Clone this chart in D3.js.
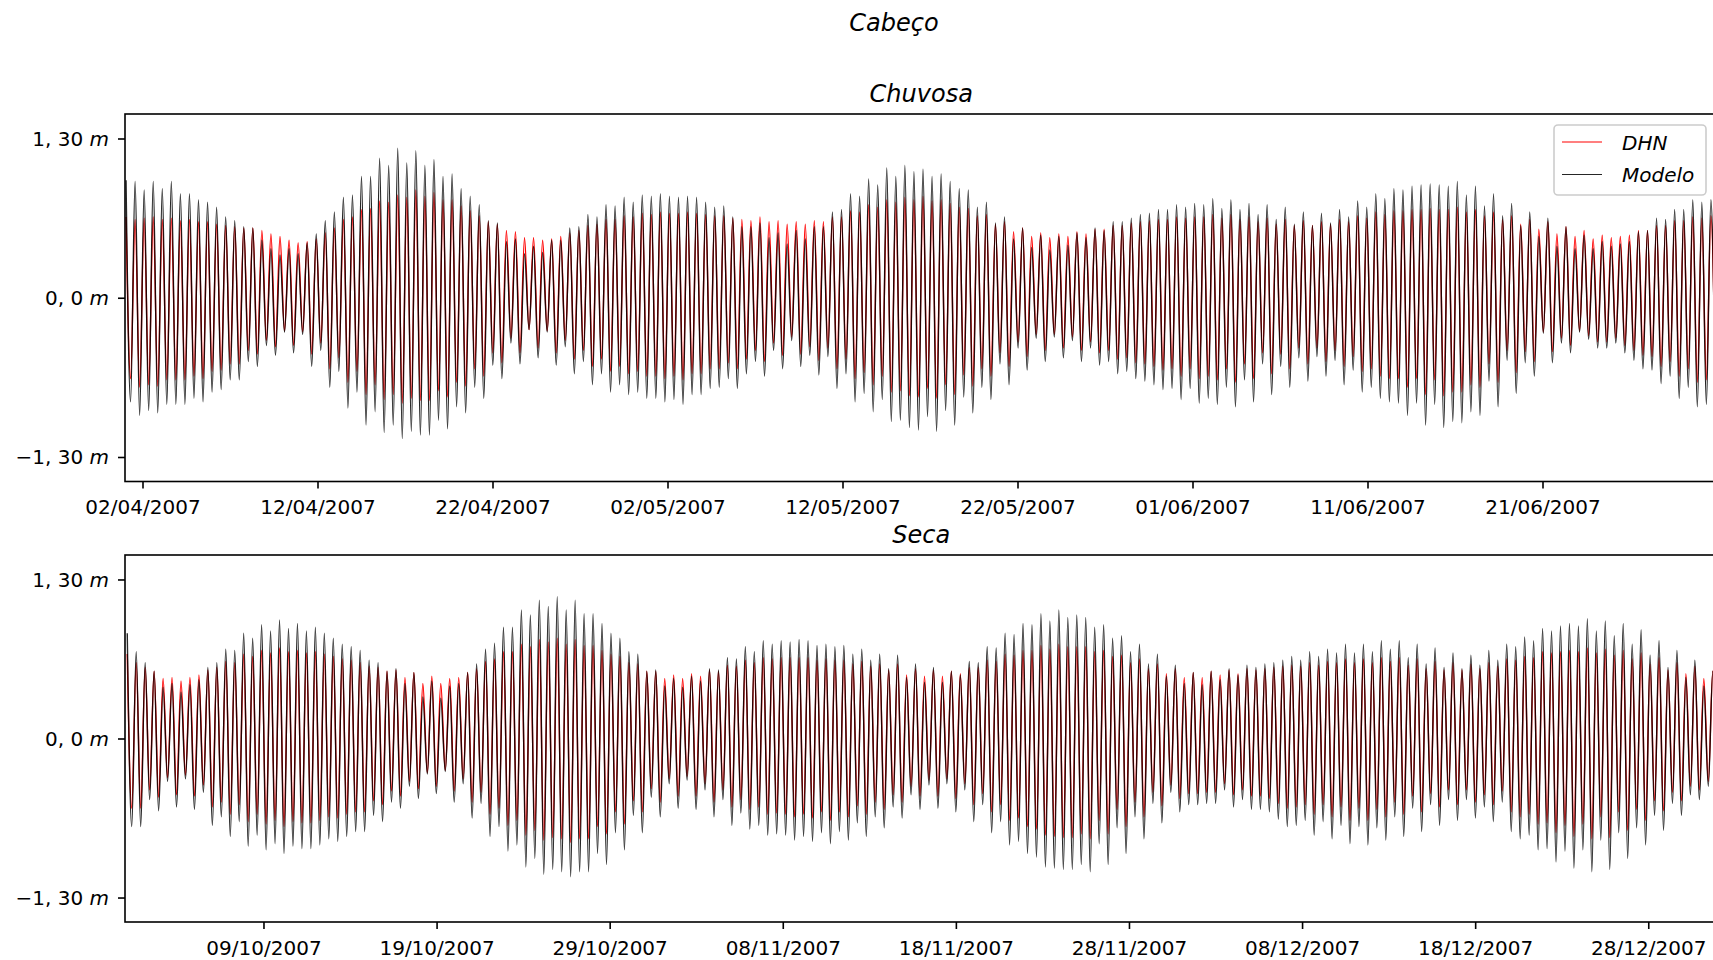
<!DOCTYPE html>
<html><head><meta charset="utf-8">
<script src="https://cdn.jsdelivr.net/npm/d3@7"></script>
<style>
html,body{margin:0;padding:0;background:#fff;overflow:hidden}
svg{display:block;background:#fff}
text{font-family:"DejaVu Sans",sans-serif;fill:#000}
</style></head><body>
<svg id="chart" width="1713" height="960"></svg>
<script>
// ---------------- data ----------------
const figureTitle = "Cabeço";
const panelTitles = ["Chuvosa", "Seca"];
const seriesNames = ["DHN", "Modelo"];
const yTickValues = [-1.3, 0, 1.3];
const yTickNumbers = ["\u22121, 30", "0, 0", "1, 30"];
const yUnit = "m";
const chuvosaTickLabels = ["02/04/2007","12/04/2007","22/04/2007","02/05/2007","12/05/2007","22/05/2007","01/06/2007","11/06/2007","21/06/2007"];
const secaTickLabels = ["09/10/2007","19/10/2007","29/10/2007","08/11/2007","18/11/2007","28/11/2007","08/12/2007","18/12/2007","28/12/2007"];
const chuvosaPeriod = ["01/04/2007 00:00", "01/07/2007 00:00"];
const secaPeriod = ["01/10/2007 00:00", "01/01/2008 00:00"];
const chuvosaFirstHighWater = "01/04/2007 01:26";
const secaFirstHighWater = "01/10/2007 03:07";
const tidalCycleHours = 12.42;

// successive high waters / low waters (cm), Chuvosa
const chuvosaModeloHigh = [96,95,88,95,89,95,85,85,80,78,74,66,63,58,57,47,40,35,40,36,45,52,63,70,82,84,99,99,114,108,122,
110,120,108,113,99,101,89,83,76,63,61,46,48,36,42,37,47,47,57,58,68,66,76,75,82,78,84,83,85,83,82,83,82,78,74,75,66,58,58,61,49,53,44,55,48,58,58,70,72,85,83,97,92,106,99,108,
103,105,99,101,95,89,88,74,78,61,66,48,57,41,51,39,50,43,53,49,57,55,62,62,65,68,69,72,72,76,74,77,76,81,73,80,72,77,68,76,64,74,60,70,59,69,61,72,66,79,74,85,81,89,88,91,
92,93,92,91,95,84,91,75,85,67,77,59,70,50,65,42,58,40,51,40,46,42,44,46,54,55,65,64,72,72,80,78,80];
const chuvosaModeloLow = [-85,-96,-92,-94,-87,-87,-87,-82,-85,-77,-75,-67,-67,-52,-56,-39,-47,-28,-45,-30,-56,-43,-73,-60,-90,-77,-104,-93,-110,-104,
-115,-109,-112,-112,-100,-107,-89,-94,-73,-82,-55,-66,-37,-54,-26,-49,-28,-55,-40,-62,-52,-71,-62,-77,-71,-79,-77,-82,-82,-85,-83,-87,-79,-79,-74,-73,-66,-74,-62,-52,-64,-43,-58,-35,-56,-47,-63,-48,-74,-62,-85,-78,-93,-83,-101,-100,
-106,-108,-97,-109,-92,-104,-81,-94,-73,-83,-54,-71,-41,-59,-33,-52,-32,-49,-35,-52,-41,-55,-52,-62,-60,-66,-68,-71,-75,-74,-83,-74,-86,-82,-87,-73,-89,-67,-85,-54,-79,-56,-73,-49,-68,-48,-64,-51,-71,-59,-77,-73,-82,-85,-86,-96,-86,
-104,-87,-106,-101,-102,-93,-96,-68,-89,-51,-78,-53,-64,-29,-53,-37,-45,-28,-34,-41,-41,-37,-45,-51,-58,-59,-70,-64,-82,-73,-89,-87,-92];
const chuvosaDHNHigh = [66,64,65,66,64,65,63,64,62,62,60,59,58,57,57,55,52,50,47,45,46,48,53,57,64,66,72,73,79,78,84,
82,88,83,86,80,80,75,71,67,62,60,55,54,49,49,47,48,50,53,55,59,60,64,64,67,66,69,68,70,69,69,70,69,68,67,67,65,64,63,66,62,63,60,62,60,63,62,66,66,71,70,76,74,80,78,82,
80,83,79,80,77,74,73,67,68,60,62,54,57,50,53,49,52,50,54,52,56,56,59,59,61,62,63,64,64,66,65,66,66,68,65,68,64,66,62,65,60,64,59,63,59,62,60,64,62,67,65,70,68,71,71,72,
72,73,72,72,74,70,72,67,70,64,67,60,64,56,62,52,58,50,55,48,51,49,50,51,55,55,59,59,63,63,66,65,67];
const chuvosaDHNLow = [-66,-73,-71,-72,-67,-67,-67,-64,-66,-60,-59,-54,-54,-43,-46,-35,-40,-27,-39,-28,-46,-37,-58,-49,-69,-60,-79,-71,-83,-79,
-86,-82,-84,-84,-76,-81,-69,-72,-58,-64,-45,-53,-33,-45,-26,-41,-27,-45,-35,-50,-43,-56,-50,-60,-56,-62,-60,-64,-64,-66,-64,-67,-62,-62,-58,-58,-53,-58,-50,-43,-52,-37,-47,-32,-46,-40,-51,-41,-58,-50,-66,-61,-71,-64,-77,-76,
-80,-81,-74,-82,-71,-79,-63,-72,-58,-64,-45,-56,-36,-48,-30,-43,-30,-41,-32,-43,-36,-45,-43,-50,-49,-53,-54,-56,-59,-58,-64,-58,-66,-64,-67,-58,-69,-54,-66,-45,-62,-46,-58,-41,-54,-41,-52,-43,-56,-48,-60,-58,-64,-66,-66,-73,-66,
-79,-67,-80,-77,-77,-71,-73,-54,-69,-43,-61,-44,-52,-28,-44,-33,-39,-27,-31,-36,-36,-33,-39,-43,-47,-48,-56,-52,-64,-58,-69,-67,-71];

// successive high waters / low waters (cm), Seca
const secaModeloHigh = [86,71,62,55,42,45,38,44,48,58,62,73,72,86,82,93,88,97,90,94,88,91,86,82,77,75,72,64,62,55,57,
45,54,34,47,33,43,45,54,61,73,78,91,91,105,101,113,108,116,105,113,102,102,94,86,82,71,69,55,56,43,49,42,51,47,57,56,66,65,75,71,80,77,80,79,81,80,76,77,75,76,69,73,64,69,57,68,50,
61,46,58,46,55,52,63,62,75,74,86,85,94,93,102,96,105,99,101,99,91,93,82,84,71,77,61,69,51,60,45,54,44,55,48,57,52,60,58,61,62,64,67,64,71,67,73,70,77,70,77,71,80,73,80,66,77,
61,74,58,70,57,68,60,72,64,77,75,83,80,90,88,92,94,92,98,88,96,84,94,77,89,68,80,58,72,50,64,43,55];
const secaModeloLow = [-72,-72,-50,-59,-35,-56,-33,-58,-44,-71,-64,-80,-68,-88,-79,-91,-86,-94,-88,-90,-90,-87,-82,-84,-80,-76,-76,-63,-68,-52,
-57,-39,-49,-29,-45,-27,-52,-37,-65,-53,-80,-72,-92,-87,-105,-98,-111,-107,-109,-113,-109,-109,-94,-103,-77,-91,-63,-77,-48,-64,-37,-57,-34,-58,-42,-64,-50,-71,-61,-74,-71,-79,-78,-79,-83,-80,-84,-77,-86,-76,-83,-69,-80,-64,-73,-56,-65,
-46,-58,-38,-57,-37,-60,-42,-68,-54,-77,-68,-87,-84,-94,-97,-105,-106,-107,-107,-103,-109,-86,-103,-73,-94,-64,-82,-53,-69,-44,-60,-54,-54,-53,-53,-42,-56,-50,-58,-58,-60,-66,-72,-71,-67,-79,-68,-82,-71,-86,-72,-87,-73,-83,-64,-80,-57,
-76,-54,-71,-50,-67,-50,-65,-56,-68,-52,-76,-82,-79,-91,-90,-101,-92,-106,-91,-109,-83,-107,-77,-98,-73,-87,-63,-75,-53,-63,-46,-50,-39,-45];
const secaDHNHigh = [69,62,58,55,49,50,47,50,52,56,58,63,62,69,67,72,70,74,71,72,70,71,69,67,65,64,62,59,58,55,56,
50,54,45,51,45,49,50,54,57,63,65,71,71,77,75,81,79,82,77,81,76,76,72,69,67,62,61,55,55,49,52,49,53,51,56,55,60,59,64,62,66,65,66,66,66,66,64,65,64,64,61,63,59,61,56,61,52,
57,51,56,51,55,53,58,58,64,63,69,68,72,72,76,73,77,75,75,75,71,72,67,68,62,65,57,61,53,57,50,54,50,55,52,56,53,57,56,57,58,59,60,59,62,60,63,62,65,62,65,62,66,63,66,60,65,
57,63,56,62,56,61,57,62,59,65,64,67,66,71,70,71,72,71,74,70,73,68,72,65,70,61,66,56,62,53,59,49,55];
const secaDHNLow = [-57,-57,-42,-48,-32,-46,-30,-47,-38,-56,-52,-62,-54,-68,-62,-70,-67,-72,-68,-69,-69,-67,-64,-65,-62,-60,-60,-51,-54,-43,
-47,-35,-41,-28,-39,-26,-43,-33,-52,-44,-62,-57,-71,-67,-79,-75,-83,-81,-82,-85,-82,-82,-72,-78,-60,-70,-51,-60,-41,-52,-33,-47,-31,-47,-37,-52,-42,-56,-50,-58,-56,-62,-61,-62,-64,-62,-65,-60,-67,-60,-64,-55,-62,-52,-58,-46,-52,
-39,-47,-34,-47,-33,-49,-37,-54,-45,-60,-54,-67,-65,-72,-74,-79,-80,-81,-81,-78,-82,-67,-78,-58,-72,-52,-64,-44,-55,-38,-49,-45,-45,-44,-44,-37,-46,-42,-47,-47,-49,-53,-57,-56,-54,-62,-54,-64,-56,-67,-57,-67,-58,-64,-52,-62,-47,
-60,-45,-56,-42,-54,-42,-52,-46,-54,-43,-60,-64,-62,-70,-69,-77,-71,-80,-70,-82,-64,-81,-60,-75,-58,-67,-51,-59,-44,-51,-39,-42,-35,-39];

// ---------------- drawing ----------------
const parseDT = d3.timeParse("%d/%m/%Y %H:%M");
const parseD = d3.timeParse("%d/%m/%Y");
const fmt = d3.timeFormat("%d/%m/%Y");

function tideSeries(firstHigh, highs, lows) {
  const t0 = +parseDT(firstHigh);
  const step = tidalCycleHours * 3600e3;
  const pts = [];
  for (let i = 0; i < highs.length; i++) {
    pts.push({t: new Date(t0 + i * step), v: highs[i] / 100});
    if (i < lows.length) pts.push({t: new Date(t0 + (i + 0.5) * step), v: lows[i] / 100});
  }
  return pts;
}

const panels = [
  {title: panelTitles[0], period: chuvosaPeriod, ticks: chuvosaTickLabels, top: 114, bottom: 481.5,
   dhn: tideSeries(chuvosaFirstHighWater, chuvosaDHNHigh, chuvosaDHNLow),
   modelo: tideSeries(chuvosaFirstHighWater, chuvosaModeloHigh, chuvosaModeloLow), legend: true},
  {title: panelTitles[1], period: secaPeriod, ticks: secaTickLabels, top: 555, bottom: 922,
   dhn: tideSeries(secaFirstHighWater, secaDHNHigh, secaDHNLow),
   modelo: tideSeries(secaFirstHighWater, secaModeloHigh, secaModeloLow), legend: false}
];

const svg = d3.select("#chart");
const left = 125, right = 1717.5;
const colors = {DHN: "#ff0000", Modelo: "#000000"};
const modeloOpacity = 0.85;
const lineWidth = 1.4;

svg.append("text").attr("x", 894).attr("y", 31).attr("text-anchor", "middle")
  .style("font-size", "24px").style("font-style", "italic").text(figureTitle);

panels.forEach((p, k) => {
  const x = d3.scaleTime().domain([parseDT(p.period[0]), parseDT(p.period[1])]).range([left, right]);
  const y = d3.scaleLinear().domain([-1.5, 1.5]).range([p.bottom, p.top]);
  const g = svg.append("g");
  const clipId = "clip" + k;
  svg.append("clipPath").attr("id", clipId).append("rect")
    .attr("x", left).attr("y", p.top).attr("width", right - left).attr("height", p.bottom - p.top);

  const line = d3.line().x(d => x(d.t)).y(d => y(d.v)).curve(d3.curveMonotoneX);
  const lg = g.append("g").attr("clip-path", `url(#${clipId})`);
  lg.append("path").datum(p.dhn).attr("d", line).attr("fill", "none")
    .attr("stroke", colors.DHN).attr("stroke-width", lineWidth).attr("stroke-linejoin", "round");
  lg.append("path").datum(p.modelo).attr("d", line).attr("fill", "none")
    .attr("stroke", colors.Modelo).attr("stroke-opacity", modeloOpacity).attr("stroke-width", lineWidth).attr("stroke-linejoin", "round");

  // frame
  g.append("rect").attr("x", left).attr("y", p.top).attr("width", right - left).attr("height", p.bottom - p.top)
    .attr("fill", "none").attr("stroke", "#000").attr("stroke-width", 1.6);

  // x axis
  const xAxis = d3.axisBottom(x).tickValues(p.ticks.map(s => parseD(s))).tickFormat(fmt).tickSize(7).tickPadding(7);
  const xa = g.append("g").attr("transform", `translate(0,${p.bottom})`).call(xAxis);
  xa.select(".domain").remove();
  xa.selectAll(".tick line").attr("stroke", "#000").attr("stroke-width", 1.6);
  xa.selectAll(".tick text").attr("y", 32.5).attr("dy", null)
    .style("font-size", "20px").style("font-family", "'DejaVu Sans', sans-serif").attr("fill", "#000");

  // y axis
  const yAxis = d3.axisLeft(y).tickValues(yTickValues).tickSize(7).tickPadding(7).tickFormat("");
  const ya = g.append("g").attr("transform", `translate(${left},0)`).call(yAxis);
  ya.select(".domain").remove();
  ya.selectAll(".tick line").attr("stroke", "#000").attr("stroke-width", 1.6);
  ya.selectAll(".tick text").remove();
  yTickValues.forEach((v, j) => {
    const t = g.append("text").attr("x", left - 16).attr("y", y(v)).attr("dy", "0.36em")
      .attr("text-anchor", "end").style("font-size", "20px");
    t.append("tspan").text(yTickNumbers[j] + " ");
    t.append("tspan").style("font-style", "italic").text(yUnit);
  });

  // panel title
  g.append("text").attr("x", (left + right) / 2).attr("y", p.top - 12).attr("text-anchor", "middle")
    .style("font-size", "24px").style("font-style", "italic").text(p.title);

  if (p.legend) {
    const lgd = g.append("g");
    lgd.append("rect").attr("x", 1554).attr("y", 125).attr("width", 152).attr("height", 70)
      .attr("rx", 4).attr("fill", "#fff").attr("fill-opacity", 0.8).attr("stroke", "#cccccc").attr("stroke-width", 1.6);
    seriesNames.forEach((name, j) => {
      const yy = 142 + j * 32.5;
      lgd.append("line").attr("x1", 1562).attr("x2", 1602).attr("y1", yy).attr("y2", yy)
        .attr("stroke", colors[name]).attr("stroke-opacity", name === "Modelo" ? modeloOpacity : 1).attr("stroke-width", 1.1);
      lgd.append("text").attr("x", 1622).attr("y", yy + 7.5).style("font-size", "20px").style("font-style", "italic").text(name);
    });
  }
});
</script></body></html>
